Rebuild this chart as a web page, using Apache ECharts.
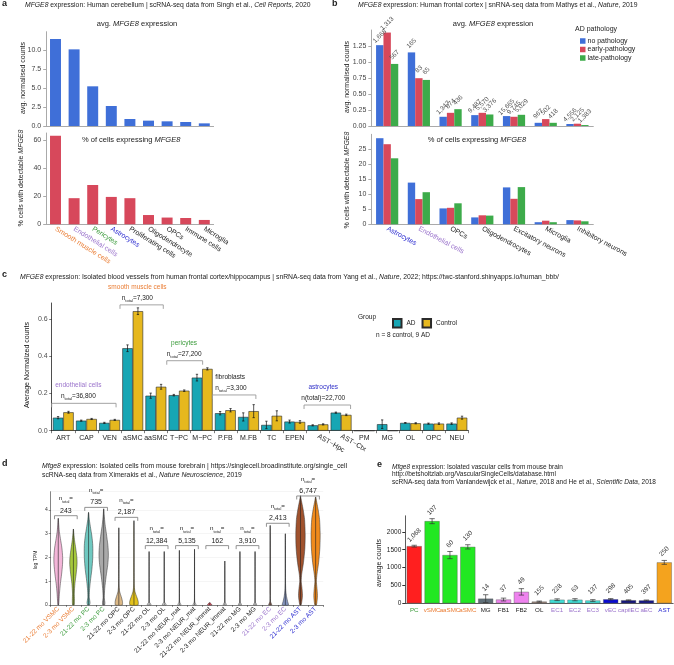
<!DOCTYPE html>
<html><head><meta charset="utf-8">
<script src="https://cdn.jsdelivr.net/npm/echarts@6/dist/echarts.min.js"></script>
<style>html,body{margin:0;padding:0;background:#fff}#c{width:674px;height:665px}</style>
</head><body><div id="c"></div><script>
// ---------- DATA ----------
const aCats = ['Smooth muscle cells','Endothelial cells','Pericytes','Astrocytes','Proliferating cells','Oligodendrocyte','OPCs','Immune cells','Microglia'];
const aAvgCounts = [11.53,10.16,5.26,2.65,0.93,0.71,0.62,0.53,0.35];
const aPctCells = [63,18.6,28,19.5,18.6,6.6,4.8,4.5,3.1];

const bCats = ['Astrocytes','Endothelial cells','OPCs','Oligodendrocytes','Excitatory neurons','Microglia','Inhibitory neurons'];
const bPathology = ['no pathology','early-pathology','late-pathology'];
const bAvgNo = [1.263,1.15,0.144,0.17,0.155,0.05,0.031];
const bAvgEarly = [1.46,0.747,0.206,0.206,0.144,0.108,0.036];
const bAvgLate = [0.97,0.72,0.263,0.18,0.175,0.05,0.015];
const bPctNo = [28.7,13.9,5.3,2.3,12.3,0.7,1.4];
const bPctEarly = [26.7,8.4,5.5,3.0,8.5,1.2,1.3];
const bPctLate = [22,10.7,7.0,2.9,12.4,0.7,1.0];
const bNNo = ['1,668','165','1,347','9,487','15,665','967','4,556'];
const bNEarly = ['1,313','83','874','5,570','9,745','502','2,125'];
const bNLate = ['567','65','436','3,376','5,029','418','1,383'];

const cCats = ['ART','CAP','VEN','aSMC','aaSMC','T\u2212PC','M\u2212PC','P.FB','M.FB','TC','EPEN','AST\u2212Hpc','AST\u2212Ctx','PM','MG','OL','OPC','NEU'];
const cAD = [0.070,0.054,0.042,0.443,0.188,0.191,0.285,0.094,0.074,0.031,0.049,0.029,0.097,0,0.035,0.042,0.038,0.038];
const cADErr = [0.006,0.003,0.003,0.018,0.014,0.004,0.018,0.009,0.022,0.02,0.008,0.003,0.003,0,0.023,0.002,0.003,0.004];
const cControl = [0.099,0.063,0.058,0.642,0.236,0.215,0.332,0.110,0.105,0.080,0.047,0.034,0.085,0,0,0.040,0.038,0.070];
const cControlErr = [0.005,0.003,0.003,0.018,0.013,0.004,0.006,0.009,0.035,0.027,0.007,0.003,0.004,0,0,0.003,0.004,0.008];
const cGroupLabels = ['endothelial cells','smooth muscle cells','pericytes','fibroblasts','astrocytes'];
const cGroupN = ['36,800','7,300','27,200','3,300','22,700'];

const dCats = ['21-22 mo VSMC','2-3 mo VSMC','21-22 mo PC','2-3 mo PC','21-22 mo OPC','2-3 mo OPC','21-22 mo OL','2-3 mo OL','21-22 mo NEUR_mat','2-3 mo NEUR_mat','21-22 mo NEUR_immat','2-3 mo NEUR_immat','21-22 mo MG','2-3 mo MG','21-22 mo EC','2-3 mo EC','21-22 mo AST','2-3 mo AST'];
const dNTotals = ['243','735','2,187','12,384','5,135','162','3,910','2,413','6,747'];
// violin outlines: [log TPM, half width (fraction of category)]
const dProfiles = [
 [[0,0.02],[0.2,0.05],[0.5,0.08],[0.9,0.14],[1.3,0.22],[1.7,0.28],[2.0,0.29],[2.4,0.24],[2.8,0.14],[3.1,0.07],[3.4,0.03],[3.65,0]],
 [[0,0.05],[0.2,0.07],[0.5,0.06],[0.9,0.1],[1.3,0.18],[1.7,0.24],[2.0,0.23],[2.4,0.15],[2.7,0.08],[3.0,0.03],[3.2,0]],
 [[0,0.06],[0.1,0.1],[0.3,0.05],[0.6,0.06],[1.0,0.12],[1.5,0.22],[2.0,0.28],[2.5,0.28],[2.9,0.22],[3.3,0.12],[3.6,0.05],[3.9,0]],
 [[0,0.06],[0.1,0.08],[0.3,0.04],[0.7,0.07],[1.2,0.16],[1.7,0.27],[2.1,0.31],[2.5,0.28],[3.0,0.18],[3.4,0.09],[3.8,0.03],[4.05,0]],
 [[0,0.22],[0.15,0.24],[0.35,0.16],[0.55,0.06],[0.8,0.02],[1.2,0.012],[2.5,0.008],[3.25,0]],
 [[0,0.26],[0.15,0.28],[0.35,0.18],[0.55,0.07],[0.8,0.02],[1.2,0.012],[2.8,0.008],[3.55,0]],
 [[0,0.12],[0.05,0.1],[0.12,0.02],[0.3,0.006],[2.0,0.004],[2.25,0]],
 [[0,0.12],[0.05,0.1],[0.12,0.02],[0.3,0.006],[2.0,0.004],[2.25,0]],
 [[0,0.1],[0.05,0.08],[0.12,0.02],[0.3,0.006],[2.0,0.004],[2.3,0]],
 [[0,0.1],[0.05,0.08],[0.12,0.02],[0.3,0.006],[2.0,0.004],[2.35,0]],
 [[0,0.14],[0.05,0.1],[0.1,0]],
 [[0,0.1],[0.05,0.08],[0.12,0.02],[0.3,0.006],[1.6,0.004],[1.85,0]],
 [[0,0.1],[0.05,0.08],[0.12,0.02],[0.3,0.006],[2.0,0.004],[2.25,0]],
 [[0,0.1],[0.05,0.08],[0.12,0.02],[0.3,0.006],[2.0,0.004],[2.25,0]],
 [[0,0.1],[0.05,0.08],[0.15,0.02],[0.4,0.008],[3.0,0.005],[3.35,0]],
 [[0,0.2],[0.15,0.15],[0.35,0.08],[0.6,0.03],[1.0,0.01],[2.5,0.006],[3.0,0]],
 [[0,0.04],[0.2,0.1],[0.4,0.13],[0.7,0.1],[1.0,0.05],[1.3,0.08],[1.8,0.2],[2.4,0.29],[3.0,0.31],[3.6,0.27],[4.0,0.18],[4.3,0.09],[4.5,0.03],[4.6,0]],
 [[0,0.05],[0.2,0.1],[0.4,0.12],[0.7,0.09],[1.0,0.05],[1.3,0.09],[1.8,0.2],[2.4,0.28],[3.0,0.3],[3.6,0.26],[4.0,0.17],[4.3,0.08],[4.5,0.02],[4.55,0]]
];

const eCats = ['PC','vSMC','aaSMC','aSMC','MG','FB1','FB2','OL','EC1','EC2','EC3','vEC','capilEC','aEC','AST'];
const eMean = [1600,2300,1350,1580,130,105,320,48,100,100,78,112,85,80,1145];
const eErr = [25,70,100,60,110,40,90,15,25,30,25,20,12,12,55];
const eN = ['1,068','107','60','130','14','37','49','155','228','63','137','298','405','397','250'];

// ---------- STYLE / LAYOUT ----------
const F = "'Liberation Sans', Arial, sans-serif";
const BLUE='#3f6fd8', RED='#d7485b', GREEN='#3dab4a', TEAL='#17a6b4', GOLD='#e6b81e';
const ORANGE='#ea7d34', PURPLE='#9b74cc', LGREEN='#3b9b3b', DBLUE='#2a2ad0', DARK='#222';
const aLabelColors = [ORANGE,PURPLE,LGREEN,DBLUE,DARK,DARK,DARK,DARK,DARK];
const bLabelColors = [DBLUE,PURPLE,DARK,DARK,DARK,DARK,DARK];
const dColors = ['#f4b6d9','#a5c83c','#6fc9c1','#a9a9a9','#dcb987','#e3c21c','#fff','#fff','#fff','#fff','#f06070','#fff','#fff','#fff','#a07060','#8595c0','#a0522d','#f08a1c'];
const dLabelColors = [ORANGE,ORANGE,LGREEN,LGREEN,DARK,DARK,DARK,DARK,DARK,DARK,DARK,DARK,DARK,DARK,PURPLE,PURPLE,DBLUE,DBLUE];
const eColors = ['#ff1f1f','#22e822','#22e822','#22e822','#5f6f78','#ee82ee','#ee82ee','#a1887f','#40e0d8','#40e0d8','#40e0d8','#0a0ad0','#15157a','#15158a','#f4a31e'];
const eLabelColors = [LGREEN,ORANGE,ORANGE,ORANGE,DARK,DARK,DARK,DARK,PURPLE,PURPLE,PURPLE,PURPLE,PURPLE,PURPLE,DBLUE];
const cGroupLayout = [
 {from:-0.5,to:2.28,y:0.147,tx:0.65,color:'#9b74cc',align:'center'},
 {from:2.45,to:4.32,y:0.676,tx:3.2,color:'#ea7d34',align:'center'},
 {from:4.47,to:6.02,y:0.376,tx:5.22,color:'#3b9b3b',align:'center'},
 {from:6.44,to:8.32,y:0.192,tx:6.6,color:'#222',align:'left'},
 {from:10.4,to:12.41,y:0.138,tx:11.23,color:'#3030c8',align:'center'}
];
const dBracketLayout = [[0,1,3.76],[2,3,4.11],[4,5,3.69],[6,7,2.5],[8,9,2.5],[10,11,2.5],[12,13,2.5],[14,15,3.44],[16,17,4.59]];

function rich(fs, color){
  const base = {fontSize:fs,fontFamily:F,fill:color,color:color};
  return {i:Object.assign({},base,{fontStyle:'italic'}), s:Object.assign({},base,{fontSize:fs*0.62,verticalAlign:'bottom',lineHeight:fs*0.8})};
}
function T(x,y,text,o){
  o=o||{}; const fs=o.size||6.8, col=o.color||DARK;
  return {type:'text',x:x,y:y,rotation:o.rot||0,silent:true,z:100,
    style:{text:text,fontSize:fs,fontFamily:F,fill:col,fontWeight:o.bold?'bold':'normal',
      align:o.align||'left',verticalAlign:'middle',lineHeight:fs*1.5,rich:rich(fs,col)}};
}
const R = Math.PI/2;
const graphics = [
 T(2,4,'a',{bold:true,size:9}),
 T(25,5,'{i|MFGE8} expression: Human cerebellum | scRNA-seq data from Singh et al., {i|Cell Reports}, 2020'),
 T(137,24.3,'avg. {i|MFGE8} expression',{align:'center',size:7.5}),
 T(82,140,'% of cells expressing {i|MFGE8}',{size:7.5}),
 T(23,78,'avg. normalised counts',{rot:R,align:'center',size:7}),
 T(21,178,'% cells with detectable {i|MFGE8}',{rot:R,align:'center',size:7}),
 T(332,4,'b',{bold:true,size:9}),
 T(358,5,'{i|MFGE8} expression: Human frontal cortex | snRNA-seq data from Mathys et al., {i|Nature}, 2019'),
 T(493,24.3,'avg. {i|MFGE8} expression',{align:'center',size:7.5}),
 T(477,140,'% of cells expressing {i|MFGE8}',{align:'center',size:7.5}),
 T(347,77,'avg. normalised counts',{rot:R,align:'center',size:7}),
 T(347,180,'% cells with detectable {i|MFGE8}',{rot:R,align:'center',size:7}),
 T(575,29.3,'AD pathology',{size:7}),
 T(2,275,'c',{bold:true,size:9}),
 T(20,277,'{i|MFGE8} expression: Isolated blood vessels from human frontal cortex/hippocampus | snRNA-seq data from Yang et al., {i|Nature}, 2022; https://twc-stanford.shinyapps.io/human_bbb/'),
 T(27,365,'Average Normalized counts',{rot:R,align:'center',size:7,color:'#111'}),
 T(358,317.3,'Group',{size:6.5}),
 T(376,335.7,'n = 8 control, 9 AD',{size:6.5}),
 T(2,464,'d',{bold:true,size:9}),
 T(42,466,'{i|Mfge8} expression: Isolated cells from mouse forebrain | https://singlecell.broadinstitute.org/single_cell'),
 T(42,475,'scRNA-seq data from Ximerakis et al., {i|Nature Neuroscience}, 2019'),
 T(36,560,'log TPM',{rot:R,align:'center',size:5}),
 T(377,465,'e',{bold:true,size:9}),
 T(392,467,'{i|Mfge8} expression: Isolated vascular cells from mouse brain',{size:6.5}),
 T(392,474.5,'http://betsholtzlab.org/VascularSingleCells/database.html',{size:6.5}),
 T(392,482,'scRNA-seq data from Vanlandewijck et al., {i|Nature}, 2018 and He et al., {i|Scientific Data}, 2018',{size:6.5}),
 T(379,563,'average counts',{rot:R,align:'center',size:7})
];

// ---------- AXES ----------
function catAxis(grid,data,colors,lab){
  return Object.assign({type:'category',gridIndex:grid,position:'bottom',
    data:data.map((d,i)=>({value:d,textStyle:{color:colors?colors[i]:DARK}})),
    axisTick:{show:false},axisLine:{show:true,lineStyle:{color:'#aaa',width:1}},
    axisLabel:Object.assign({show:!!lab,interval:0,fontSize:7,fontFamily:F,margin:4},lab||{})});
}
function valAxis(grid,max,interval,fmt,extra){
  return Object.assign({type:'value',gridIndex:grid,min:0,max:max,interval:interval,
    axisLine:{show:true,lineStyle:{color:'#aaa'}},axisTick:{show:true,length:3,lineStyle:{color:'#aaa'}},
    splitLine:{show:false},
    axisLabel:{fontSize:7,fontFamily:F,color:'#444',margin:5,showMaxLabel:false,formatter:fmt}},extra||{});
}
const xAxes = [
 catAxis(0,aCats,null,null),
 catAxis(1,aCats,aLabelColors,{rotate:-32}),
 catAxis(2,bCats,null,null),
 catAxis(3,bCats,bLabelColors,{rotate:-28}),
 Object.assign(catAxis(4,cCats,null,{color:'#4d4d4d',fontSize:7,formatter:(v,i)=>(i===11||i===12)?'':v}),{axisLine:{lineStyle:{color:'#222',width:0.8}},axisTick:{show:true,length:2.5,lineStyle:{color:'#222',width:0.6}}}),
 Object.assign(catAxis(4,cCats,null,{color:'#777',fontSize:7,rotate:-30,margin:5,formatter:(v,i)=>(i===11||i===12)?v:''}),{position:'bottom',offset:0,axisLine:{show:false}}),
 Object.assign(catAxis(5,dCats,dLabelColors,{rotate:45,fontSize:6.5,margin:3}),{axisLine:{lineStyle:{color:'#333',width:0.6}},axisTick:{show:true,length:2,lineStyle:{color:'#333',width:0.5}}}),
 Object.assign(catAxis(6,eCats,eLabelColors,{fontSize:6.2,margin:4}),{axisLine:{lineStyle:{color:'#333',width:0.8}}})
];
const yAxes = [
 valAxis(0,12.5,2.5,v=>v.toFixed(1)),
 valAxis(1,65,20,v=>String(v)),
 valAxis(2,1.5,0.25,v=>v.toFixed(2)),
 valAxis(3,30,5,v=>String(v)),
 valAxis(4,0.686,0.2,v=>v.toFixed(1),{axisLine:{show:true,lineStyle:{color:'#222',width:0.8}},axisTick:{show:true,length:2.5,lineStyle:{color:'#222',width:0.6}},axisLabel:{fontSize:7,fontFamily:F,color:'#4d4d4d',margin:4,showMaxLabel:false,formatter:v=>v.toFixed(1)}}),
 valAxis(5,4.77,1,v=>String(v),{axisLine:{show:true,lineStyle:{color:'#333',width:0.6}},axisTick:{show:true,length:2,lineStyle:{color:'#333',width:0.5}},splitLine:{show:true,lineStyle:{color:'#eeeeee',width:0.6}},axisLabel:{fontSize:5,fontFamily:F,color:'#333',margin:3,showMaxLabel:false,formatter:v=>String(v)}}),
 valAxis(6,2450,500,v=>String(v),{axisLine:{show:true,lineStyle:{color:'#333',width:0.8}},axisTick:{show:true,length:3,lineStyle:{color:'#333'}},axisLabel:{fontSize:6.5,fontFamily:F,color:'#222',margin:4,showMaxLabel:false,formatter:v=>String(v)}})
];

// ---------- SERIES ----------
const series = [];
series.push({type:'bar',xAxisIndex:0,yAxisIndex:0,data:aAvgCounts,barCategoryGap:'41%',itemStyle:{color:BLUE}});
series.push({type:'bar',xAxisIndex:1,yAxisIndex:1,data:aPctCells,barCategoryGap:'41%',itemStyle:{color:RED}});
const bAvg=[bAvgNo,bAvgEarly,bAvgLate], bPct=[bPctNo,bPctEarly,bPctLate], bN=[bNNo,bNEarly,bNLate], bCol=[BLUE,RED,GREEN];
for(let k=0;k<3;k++){
  series.push({type:'bar',name:bPathology[k],xAxisIndex:2,yAxisIndex:2,data:bAvg[k],barGap:'0%',barCategoryGap:'30%',itemStyle:{color:bCol[k]},
    label:{show:true,position:'top',distance:9,rotate:45,align:'center',verticalAlign:'middle',fontSize:6.5,fontFamily:F,color:'#555',formatter:p=>bN[k][p.dataIndex]}});
}
for(let k=0;k<3;k++){
  series.push({type:'bar',name:bPathology[k],xAxisIndex:3,yAxisIndex:3,data:bPct[k],barGap:'0%',barCategoryGap:'30%',itemStyle:{color:bCol[k]}});
}
// panel c
series.push({type:'bar',name:'AD',xAxisIndex:4,yAxisIndex:4,data:cAD,barGap:'0%',barCategoryGap:'10%',itemStyle:{color:TEAL,borderColor:'#2b2b2b',borderWidth:0.6}});
series.push({type:'bar',name:'Control',xAxisIndex:4,yAxisIndex:4,data:cControl,barGap:'0%',barCategoryGap:'10%',itemStyle:{color:GOLD,borderColor:'#2b2b2b',borderWidth:0.6}});
function errSeries(xi,yi,vals,errs,offset,capFrac,col){
  return {type:'custom',xAxisIndex:xi,yAxisIndex:yi,z:5,silent:true,
    data:vals.map((v,i)=>[i,v]),encode:{x:0,y:1},
    renderItem:(params,api)=>{
      const i=params.dataIndex, v=vals[i], e=errs[i];
      if(!e) return null;
      const bw=api.size([1,0])[0];
      const x=api.coord([i,v])[0]+offset*bw;
      const y1=api.coord([i,v+e])[1], y2=api.coord([i,Math.max(0,v-e)])[1];
      const c=capFrac*bw, st={stroke:col,lineWidth:0.7};
      return {type:'group',children:[
        {type:'line',shape:{x1:x,y1:y1,x2:x,y2:y2},style:st},
        {type:'line',shape:{x1:x-c,y1:y1,x2:x+c,y2:y1},style:st},
        {type:'line',shape:{x1:x-c,y1:y2,x2:x+c,y2:y2},style:st}]};
    }};
}
series.push(errSeries(4,4,cAD,cADErr,-0.225,0.05,'#111'));
series.push(errSeries(4,4,cControl,cControlErr,0.225,0.05,'#111'));
series.push({type:'custom',xAxisIndex:4,yAxisIndex:4,z:6,silent:true,
  data:cGroupLabels.map((g,i)=>[i]),encode:{x:-1,y:-1},
  renderItem:(params,api)=>{
    const i=params.dataIndex, L=cGroupLayout[i];
    const bw=api.size([1,0])[0], x0=api.coord([0,0])[0];
    const y=api.coord([0,L.y])[1];
    const x1=x0+L.from*bw, x2=x0+L.to*bw, tx=x0+L.tx*bw;
    const nText = i===4 ? 'n(total)='+cGroupN[i] : 'n{s|total}='+cGroupN[i];
    return {type:'group',children:[
      {type:'polyline',shape:{points:[[x1,y+4],[x1,y],[x2,y],[x2,y+4]]},style:{stroke:'#9a9a9a',lineWidth:0.9,fill:null}},
      {type:'text',x:L.align==='left'?x1+3:tx,y:y-18,style:{text:cGroupLabels[i],fill:L.color,fontSize:6.5,fontFamily:F,align:L.align,verticalAlign:'middle'}},
      {type:'text',x:L.align==='left'?x1+3:tx,y:y-7,style:{text:nText,fill:'#222',fontSize:6.5,fontFamily:F,align:L.align,verticalAlign:'middle',lineHeight:10,rich:rich(6.5,'#222')}}
    ]};
  }});
// panel d: violins
series.push({type:'custom',xAxisIndex:6,yAxisIndex:5,z:3,silent:true,
  data:dCats.map((c,i)=>[i,0]),encode:{x:0,y:1},
  renderItem:(params,api)=>{
    const i=params.dataIndex, prof=dProfiles[i];
    const bw=api.size([1,0])[0], cx=api.coord([i,0])[0];
    const left=[], right=[];
    prof.forEach(p=>{const py=api.coord([i,p[0]])[1]; left.push([cx-p[1]*bw,py]); right.push([cx+p[1]*bw,py]);});
    right.pop();
    const pts=left.concat(right.reverse());
    const top=prof[prof.length-1][0];
    return {type:'group',children:[
      {type:'polygon',shape:{points:pts,smooth:0.25},style:{fill:dColors[i],stroke:'#333',lineWidth:0.5}},
      {type:'line',shape:{x1:cx,y1:api.coord([i,0])[1],x2:cx,y2:api.coord([i,top])[1]},style:{stroke:'#222',lineWidth:0.6}}
    ]};
  }});
series.push({type:'custom',xAxisIndex:6,yAxisIndex:5,z:6,silent:true,
  data:dNTotals.map((n,i)=>[i]),encode:{x:-1,y:-1},
  renderItem:(params,api)=>{
    const i=params.dataIndex, L=dBracketLayout[i];
    const bw=api.size([1,0])[0];
    const xa=api.coord([L[0],0])[0]-0.25*bw, xb=api.coord([L[1],0])[0]+0.25*bw;
    const y=api.coord([L[0],L[2]])[1], tx=(xa+xb)/2;
    return {type:'group',children:[
      {type:'polyline',shape:{points:[[xa,y+3.5],[xa,y],[xb,y],[xb,y+3.5]]},style:{stroke:'#777',lineWidth:0.8,fill:null}},
      {type:'text',x:tx,y:y-5,style:{text:dNTotals[i],fill:'#222',fontSize:7,fontFamily:F,align:'center',verticalAlign:'middle'}},
      {type:'text',x:tx,y:y-17,style:{text:'n{s|total}=',fill:'#222',fontSize:6.2,fontFamily:F,align:'center',verticalAlign:'middle',lineHeight:10,rich:rich(6.2,'#222')}}
    ]};
  }});
// panel e
series.push({type:'bar',xAxisIndex:7,yAxisIndex:6,barCategoryGap:'16%',
  data:eMean.map((v,i)=>({value:v,itemStyle:{color:eColors[i]}})),
  itemStyle:{borderColor:'#555',borderWidth:0.4},
  label:{show:true,position:'top',distance:11,rotate:45,align:'center',verticalAlign:'middle',fontSize:6.5,fontFamily:F,color:'#333',formatter:p=>eN[p.dataIndex]}});
series.push(errSeries(7,6,eMean,eErr,0,0.15,'#333'));

const chart = echarts.init(document.getElementById('c'),null,{renderer:'canvas'});
chart.setOption({
  animation:false,
  backgroundColor:'#fff',
  textStyle:{fontFamily:F},
  grid:[
    {left:46.2,top:31.7,width:167.4,height:94.3,outerBoundsMode:'none'},
    {left:46.2,top:133,width:167.4,height:91.3,outerBoundsMode:'none'},
    {left:371.3,top:30,width:222,height:96,outerBoundsMode:'none'},
    {left:371.3,top:134.3,width:222,height:90,outerBoundsMode:'none'},
    {left:51.7,top:303,width:416.7,height:127.7,outerBoundsMode:'none'},
    {left:50.7,top:491.7,width:272.5,height:113.3,outerBoundsMode:'none'},
    {left:405.3,top:515.8,width:267.9,height:87.5,outerBoundsMode:'none'}
  ],
  xAxis:xAxes, yAxis:yAxes, series:series,
  legend:[
    {data:bPathology,orient:'vertical',left:575,top:32.5,itemWidth:5.5,itemHeight:5.5,itemGap:1.5,icon:'rect',selectedMode:false,
     textStyle:{fontSize:7,fontFamily:F,color:'#222',padding:[0,0,0,-3]}},
    {data:['AD','Control'],orient:'horizontal',left:387,top:313,itemWidth:8.5,itemHeight:8.5,itemGap:6,icon:'rect',selectedMode:false,
     textStyle:{fontSize:6.5,fontFamily:F,color:'#222'}}
  ],
  graphic:graphics
});
</script></body></html>
